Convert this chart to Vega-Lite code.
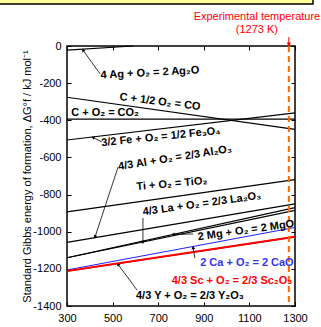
{
  "$schema": "https://vega.github.io/schema/vega-lite/v6.json",
  "width": 228,
  "height": 260,
  "autosize": "none",
  "padding": {"left": 67, "top": 46, "right": 26, "bottom": 21},
  "background": "white",
  "config": {
    "font": "Liberation Sans",
    "view": {"stroke": "black", "strokeWidth": 1.5},
    "axis": {"domain": false, "grid": false, "tickColor": "black", "tickSize": -4, "tickWidth": 1, "labelColor": "black", "labelFontSize": 11, "labelFont": "Liberation Sans", "titleFont": "Liberation Sans", "titleFontWeight": "normal", "titleFontSize": 11, "titleColor": "black", "labelFlush": false, "labelOverlap": false}
  },
  "datasets": {
    "black": [
      {"r": "Ag", "T": 300, "G": -22}, {"r": "Ag", "T": 590, "G": 0},
      {"r": "CO", "T": 300, "G": -276}, {"r": "CO", "T": 1300, "G": -449},
      {"r": "CO2", "T": 300, "G": -394}, {"r": "CO2", "T": 1300, "G": -394},
      {"r": "Fe", "T": 300, "G": -506}, {"r": "Fe", "T": 1300, "G": -360},
      {"r": "Ti", "T": 300, "G": -893}, {"r": "Ti", "T": 1300, "G": -720},
      {"r": "Al", "T": 300, "G": -1057}, {"r": "Al", "T": 1300, "G": -850},
      {"r": "La", "T": 300, "G": -1140}, {"r": "La", "T": 1300, "G": -870},
      {"r": "Mg", "T": 300, "G": -1140}, {"r": "Mg", "T": 1300, "G": -885},
      {"r": "Y", "T": 300, "G": -1213}, {"r": "Y", "T": 1300, "G": -1028}
    ],
    "blue": [{"r": "Ca", "T": 300, "G": -1206}, {"r": "Ca", "T": 1300, "G": -977}],
    "red": [{"r": "Sc", "T": 300, "G": -1212}, {"r": "Sc", "T": 1300, "G": -1027}],
    "arrows": [
      {"a": "Ag", "T": 445, "G": -150}, {"a": "Ag", "T": 370, "G": -22},
      {"a": "Fe", "T": 453, "G": -517}, {"a": "Fe", "T": 414, "G": -492},
      {"a": "Al", "T": 524, "G": -652}, {"a": "Al", "T": 423, "G": -1028},
      {"a": "La", "T": 633, "G": -926}, {"a": "La", "T": 633, "G": -1058},
      {"a": "Mg", "T": 853, "G": -1012}, {"a": "Mg", "T": 765, "G": -1015},
      {"a": "Ca", "T": 861, "G": -1142}, {"a": "Ca", "T": 853, "G": -1085},
      {"a": "Y", "T": 607, "G": -1314}, {"a": "Y", "T": 524, "G": -1176}
    ]
  },
  "encoding": {
    "x": {"field": "T", "type": "quantitative", "scale": {"domain": [300, 1300], "nice": false, "zero": false}, "axis": null},
    "y": {"field": "G", "type": "quantitative", "scale": {"domain": [-1400, 0], "nice": false, "zero": false}, "axis": null}
  },
  "layer": [
    {
      "data": {"values": [{"T": -200, "T2": 1379, "G": 226, "G2": 400}]},
      "mark": {"type": "rect", "fill": "#ffff99", "stroke": "black", "strokeWidth": 1.5},
      "encoding": {"x2": {"field": "T2"}, "y2": {"field": "G2"}}
    },
    {
      "data": {"name": "black"},
      "mark": {"type": "line", "color": "black", "strokeWidth": 1.2},
      "encoding": {
        "x": {"field": "T", "type": "quantitative", "scale": {"domain": [300, 1300], "nice": false, "zero": false},
              "axis": {"values": [300, 500, 700, 900, 1100, 1300], "format": "d", "title": null, "labelPadding": 10, "orient": "bottom"}},
        "y": {"field": "G", "type": "quantitative", "scale": {"domain": [-1400, 0], "nice": false, "zero": false},
              "axis": {"values": [-1400, -1200, -1000, -800, -600, -400, -200, 0], "labelExpr": "toString(datum.value)", "labelPadding": 10, "orient": "left",
                       "title": "Standard Gibbs energy of formation, ΔG°f  /  kJ mol⁻¹", "titlePadding": 0}},
        "detail": {"field": "r"}
      }
    },
    {
      "data": {"name": "blue"},
      "mark": {"type": "line", "color": "#2020ff", "strokeWidth": 1},
      "encoding": {
        "x": {"field": "T", "type": "quantitative", "scale": {"domain": [300, 1300], "nice": false, "zero": false},
              "axis": {"values": [300, 500, 700, 900, 1100, 1300], "title": null, "labels": false, "orient": "top"}},
        "y": {"field": "G", "type": "quantitative", "scale": {"domain": [-1400, 0], "nice": false, "zero": false},
              "axis": {"values": [-1400, -1200, -1000, -800, -600, -400, -200, 0], "labels": false, "title": null, "orient": "right"}}
      }
    },
    {
      "data": {"name": "red"},
      "mark": {"type": "line", "color": "#ff0000", "strokeWidth": 2}
    },
    {
      "data": {"values": [{"T": 1273}]},
      "mark": {"type": "rule", "color": "#ff6600", "strokeWidth": 2, "strokeDash": [6, 4]},
      "encoding": {"x": {"field": "T", "type": "quantitative", "axis": null}, "y": null}
    },
    {
      "data": {"values": [{"T": 1273, "G": 48}, {"T": 1273, "G": 6}]},
      "mark": {"type": "line", "color": "#ff0000", "strokeWidth": 1}
    },
    {
      "data": {"values": [{"T": 1273, "G": 8}]},
      "mark": {"type": "point", "shape": "triangle-down", "filled": true, "color": "#ff0000", "size": 20, "opacity": 1}
    },
    {
      "data": {"name": "arrows"},
      "mark": {"type": "line", "color": "black", "strokeWidth": 0.8},
      "encoding": {"detail": {"field": "a"}}
    },
    {
      "data": {"values": [{"T": 370, "G": -22}, {"T": 524, "G": -1176}]},
      "mark": {"type": "point", "shape": "triangle-up", "filled": true, "color": "black", "size": 14, "opacity": 1, "angle": 323}
    },
    {
      "data": {"values": [{"T": 414, "G": -492}]},
      "mark": {"type": "point", "shape": "triangle-up", "filled": true, "color": "black", "size": 14, "opacity": 1, "angle": 297}
    },
    {
      "data": {"values": [{"T": 423, "G": -1028}]},
      "mark": {"type": "point", "shape": "triangle-up", "filled": true, "color": "black", "size": 14, "opacity": 1, "angle": 198}
    },
    {
      "data": {"values": [{"T": 633, "G": -1058}]},
      "mark": {"type": "point", "shape": "triangle-up", "filled": true, "color": "black", "size": 14, "opacity": 1, "angle": 180}
    },
    {
      "data": {"values": [{"T": 765, "G": -1015}]},
      "mark": {"type": "point", "shape": "triangle-up", "filled": true, "color": "black", "size": 14, "opacity": 1, "angle": 269}
    },
    {
      "data": {"values": [{"T": 853, "G": -1085}]},
      "mark": {"type": "point", "shape": "triangle-up", "filled": true, "color": "black", "size": 14, "opacity": 1, "angle": 350}
    },
    {
      "data": {"values": [{"T": 664, "G": -145, "t": "4 Ag + O₂ = 2 Ag₂O"}]},
      "mark": {"type": "text", "fontWeight": "bold", "fontSize": 11, "angle": 357, "color": "black"},
      "encoding": {"text": {"field": "t"}}
    },
    {
      "data": {"values": [{"T": 708, "G": -302, "t": "C + 1/2 O₂ =  CO"}]},
      "mark": {"type": "text", "fontWeight": "bold", "fontSize": 11, "angle": 7, "color": "black"},
      "encoding": {"text": {"field": "t"}}
    },
    {
      "data": {"values": [{"T": 467, "G": -361, "t": "C + O₂ =  CO₂"}, {"T": 839, "G": -1346, "t": "4/3 Y + O₂ = 2/3 Y₂O₃"}]},
      "mark": {"type": "text", "fontWeight": "bold", "fontSize": 11, "color": "black"},
      "encoding": {"text": {"field": "t"}}
    },
    {
      "data": {"values": [{"T": 712, "G": -490, "t": "3/2 Fe + O₂ = 1/2 Fe₃O₄"}]},
      "mark": {"type": "text", "fontWeight": "bold", "fontSize": 11, "angle": 354, "color": "black"},
      "encoding": {"text": {"field": "t"}}
    },
    {
      "data": {"values": [{"T": 774, "G": -603, "t": "4/3 Al + O₂ = 2/3 Al₂O₃"}]},
      "mark": {"type": "text", "fontWeight": "bold", "fontSize": 11, "angle": 351, "color": "black"},
      "encoding": {"text": {"field": "t"}}
    },
    {
      "data": {"values": [{"T": 760, "G": -743, "t": "Ti + O₂ =  TiO₂"}]},
      "mark": {"type": "text", "fontWeight": "bold", "fontSize": 11, "angle": 355, "color": "black"},
      "encoding": {"text": {"field": "t"}}
    },
    {
      "data": {"values": [{"T": 892, "G": -851, "t": "4/3 La + O₂ = 2/3 La₂O₃"}]},
      "mark": {"type": "text", "fontWeight": "bold", "fontSize": 11, "angle": 352, "color": "black"},
      "encoding": {"text": {"field": "t"}}
    },
    {
      "data": {"values": [{"T": 1085, "G": -994, "t": "2 Mg + O₂ = 2 MgO"}]},
      "mark": {"type": "text", "fontWeight": "bold", "fontSize": 11, "angle": 352, "color": "black"},
      "encoding": {"text": {"field": "t"}}
    },
    {
      "data": {"values": [{"T": 1089, "G": -1169, "t": "2 Ca + O₂ = 2 CaO"}]},
      "mark": {"type": "text", "fontWeight": "bold", "fontSize": 11, "color": "#3333ee"},
      "encoding": {"text": {"field": "t"}}
    },
    {
      "data": {"values": [{"T": 1024, "G": -1265, "t": "4/3 Sc + O₂ = 2/3 Sc₂O₃"}]},
      "mark": {"type": "text", "fontWeight": "bold", "fontSize": 11, "color": "#ff0000"},
      "encoding": {"text": {"field": "t"}}
    },
    {
      "data": {"values": [{"T": 1133, "G": 156, "t": "Experimental temperature"}, {"T": 1133, "G": 86, "t": "(1273 K)"}]},
      "mark": {"type": "text", "fontSize": 11, "color": "#ff0000"},
      "encoding": {"text": {"field": "t"}}
    }
  ],
  "resolve": {"axis": {"x": "independent", "y": "independent"}}
}
